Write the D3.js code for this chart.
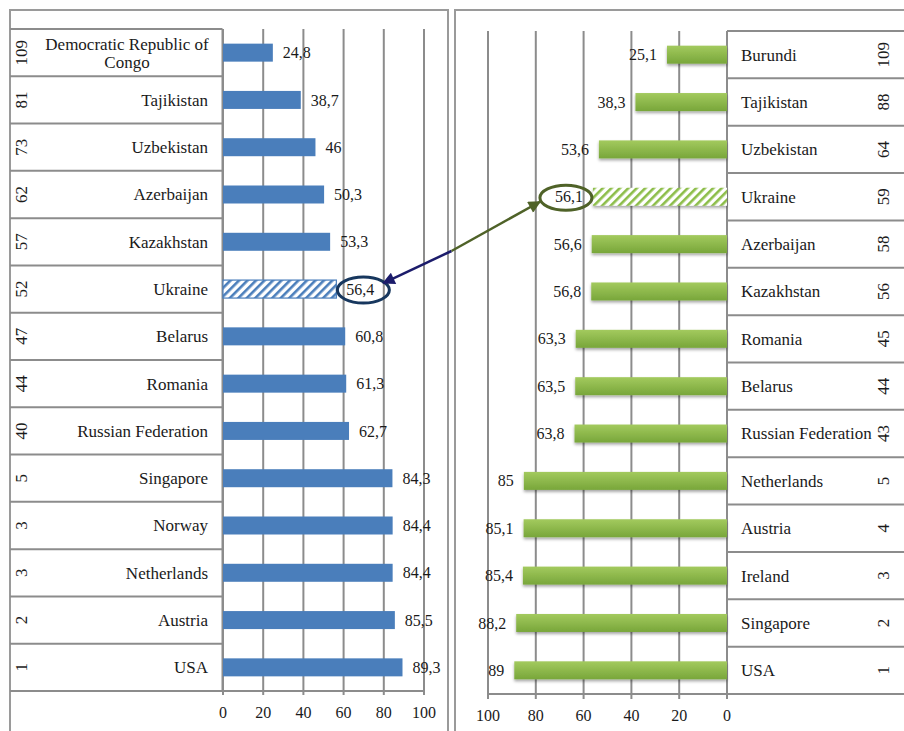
<!DOCTYPE html>
<html>
<head>
<meta charset="utf-8">
<script src="https://cdn.jsdelivr.net/npm/d3@7"></script>
<style>
  html, body { margin: 0; padding: 0; background: #fff; }
  svg { display: block; }
</style>
</head>
<body>
<svg id="chart" width="904" height="731" font-family="'Liberation Serif', 'Times New Roman', 'DejaVu Serif', serif"></svg>
<script>
// Left panel: index 1
const leftCountries = ["Democratic Republic of Congo", "Tajikistan", "Uzbekistan", "Azerbaijan", "Kazakhstan", "Ukraine", "Belarus", "Romania", "Russian Federation", "Singapore", "Norway", "Netherlands", "Austria", "USA"];
const leftRanks = [109, 81, 73, 62, 57, 52, 47, 44, 40, 5, 3, 3, 2, 1];
const leftValues = [24.8, 38.7, 46, 50.3, 53.3, 56.4, 60.8, 61.3, 62.7, 84.3, 84.4, 84.4, 85.5, 89.3];

// Right panel: index 2
const rightCountries = ["Burundi", "Tajikistan", "Uzbekistan", "Ukraine", "Azerbaijan", "Kazakhstan", "Romania", "Belarus", "Russian Federation", "Netherlands", "Austria", "Ireland", "Singapore", "USA"];
const rightRanks = [109, 88, 64, 59, 58, 56, 45, 44, 43, 5, 4, 3, 2, 1];
const rightValues = [25.1, 38.3, 53.6, 56.1, 56.6, 56.8, 63.3, 63.5, 63.8, 85, 85.1, 85.4, 88.2, 89];

const axisTicks = [0, 20, 40, 60, 80, 100];
const highlight = "Ukraine";

const fmt = v => String(v).replace(".", ",");

const svg = d3.select("#chart");
const defs = svg.append("defs");

// hatch patterns for the highlighted bars
function hatch(id, color) {
  const p = defs.append("pattern").attr("id", id)
    .attr("patternUnits", "userSpaceOnUse").attr("width", 6).attr("height", 6)
    .attr("patternTransform", "rotate(45)");
  p.append("rect").attr("width", 6).attr("height", 6).attr("fill", "#fff");
  p.append("rect").attr("width", 2.6).attr("height", 6).attr("fill", color);
}
hatch("hatchBlue", "#4a7ebb");
hatch("hatchGreen", "#8cbd48");

const grad = defs.append("linearGradient").attr("id", "greenGrad")
  .attr("x1", 0).attr("y1", 0).attr("x2", 0).attr("y2", 1);
grad.append("stop").attr("offset", "0%").attr("stop-color", "#a3ca5e");
grad.append("stop").attr("offset", "100%").attr("stop-color", "#78a63a");

const shadow = defs.append("filter").attr("id", "shadow")
  .attr("x", "-5%").attr("y", "-30%").attr("width", "110%").attr("height", "180%");
shadow.append("feDropShadow").attr("dx", 0).attr("dy", 2).attr("stdDeviation", 1.5)
  .attr("flood-color", "#000").attr("flood-opacity", 0.35);

function marker(id, color) {
  defs.append("marker").attr("id", id)
    .attr("viewBox", "0 0 10 10").attr("refX", 9).attr("refY", 5)
    .attr("markerWidth", 5.5).attr("markerHeight", 5).attr("orient", "auto")
    .attr("markerUnits", "strokeWidth")
    .append("path").attr("d", "M0,0 L10,5 L0,10 Z").attr("fill", color);
}
marker("arrowNavy", "#1c1c6b");
marker("arrowGreen", "#4f6228");

const gridColor = "#8c8c8c";
const frameColor = "#9a9a9a";
const textColor = "#1a1a1a";
const nameSize = 17;
const valSize = 16;
const tickSize = 16;
const rankSize = 17;

// ---------- frames ----------
svg.append("rect").attr("x", 10).attr("y", 10).attr("width", 438).attr("height", 740)
  .attr("fill", "none").attr("stroke", frameColor).attr("stroke-width", 2);
svg.append("rect").attr("x", 455).attr("y", 10).attr("width", 470).attr("height", 740)
  .attr("fill", "none").attr("stroke", frameColor).attr("stroke-width", 2);

// ---------- left panel ----------
const L = { top: 29, bottom: 691, tableX0: 10, tableX1: 222.5 };
const xL = d3.scaleLinear().domain([0, 100]).range([223, 424]);
const yL = d3.scaleBand().domain(leftCountries).range([L.top, L.bottom]).padding(0);

const gL = svg.append("g").attr("fill", textColor);
gL.selectAll("line.grid").data(axisTicks).join("line")
  .attr("x1", d => xL(d)).attr("x2", d => xL(d))
  .attr("y1", L.top).attr("y2", L.bottom + 4)
  .attr("stroke", gridColor).attr("stroke-width", 2);
gL.selectAll("line.row").data(leftCountries).join("line")
  .attr("x1", L.tableX0).attr("x2", L.tableX1)
  .attr("y1", d => yL(d)).attr("y2", d => yL(d))
  .attr("stroke", gridColor).attr("stroke-width", 2);
gL.append("line").attr("x1", L.tableX1).attr("x2", L.tableX1)
  .attr("y1", L.top).attr("y2", L.bottom).attr("stroke", gridColor).attr("stroke-width", 2);
gL.append("line").attr("x1", L.tableX0).attr("x2", xL(100))
  .attr("y1", L.bottom).attr("y2", L.bottom).attr("stroke", gridColor).attr("stroke-width", 2);
gL.selectAll("text.tick").data(axisTicks).join("text")
  .attr("x", d => xL(d)).attr("y", L.bottom + 27)
  .attr("text-anchor", "middle").attr("font-size", tickSize).text(d => d);
const barH = 18;
gL.selectAll("rect.bar").data(leftCountries).join("rect")
  .attr("x", xL(0))
  .attr("y", d => yL(d) + yL.bandwidth() / 2 - barH / 2)
  .attr("width", (d, i) => xL(leftValues[i]) - xL(0))
  .attr("height", barH)
  .attr("fill", d => d === highlight ? "url(#hatchBlue)" : "#4a7ebb")
  .attr("stroke", d => d === highlight ? "#4a7ebb" : "none")
  .attr("stroke-width", 1.2);
gL.selectAll("text.val").data(leftCountries).join("text")
  .attr("x", (d, i) => xL(leftValues[i]) + 10)
  .attr("y", d => yL(d) + yL.bandwidth() / 2)
  .attr("dy", "0.35em").attr("font-size", valSize)
  .text((d, i) => fmt(leftValues[i]));
gL.selectAll("text.name").data(leftCountries).join("text")
  .attr("font-size", nameSize)
  .each(function (d) {
    const t = d3.select(this);
    const cy = yL(d) + yL.bandwidth() / 2;
    if (d === "Democratic Republic of Congo") {
      t.attr("text-anchor", "middle");
      t.append("tspan").attr("x", 127).attr("y", cy - 9).attr("dy", "0.35em").text("Democratic Republic of");
      t.append("tspan").attr("x", 127).attr("y", cy + 9).attr("dy", "0.35em").text("Congo");
    } else {
      t.attr("text-anchor", "end").attr("x", 208).attr("y", cy).attr("dy", "0.35em").text(d);
    }
  });
gL.selectAll("text.rank").data(leftCountries).join("text")
  .attr("font-size", rankSize).attr("text-anchor", "middle")
  .attr("transform", d => `translate(21,${yL(d) + yL.bandwidth() / 2}) rotate(-90)`)
  .attr("dy", "0.35em")
  .text((d, i) => leftRanks[i]);

// ---------- right panel ----------
const R = { top: 31, bottom: 694, tableX0: 727, tableX1: 910 };
const xR = d3.scaleLinear().domain([0, 100]).range([727, 488]);
const yR = d3.scaleBand().domain(rightCountries).range([R.top, R.bottom]).padding(0);

const gR = svg.append("g").attr("fill", textColor);
gR.selectAll("line.grid").data(axisTicks).join("line")
  .attr("x1", d => xR(d)).attr("x2", d => xR(d))
  .attr("y1", R.top).attr("y2", R.bottom + 5)
  .attr("stroke", gridColor).attr("stroke-width", 2);
gR.append("rect")
  .attr("x", R.tableX0).attr("y", R.top).attr("width", R.tableX1 - R.tableX0)
  .attr("height", R.bottom - R.top).attr("fill", "#fff");
gR.selectAll("line.row").data(rightCountries).join("line")
  .attr("x1", R.tableX0).attr("x2", R.tableX1)
  .attr("y1", d => yR(d)).attr("y2", d => yR(d))
  .attr("stroke", gridColor).attr("stroke-width", 2);
gR.append("line").attr("x1", R.tableX0).attr("x2", R.tableX0)
  .attr("y1", R.top).attr("y2", R.bottom + 5).attr("stroke", gridColor).attr("stroke-width", 2);
gR.append("line").attr("x1", xR(100)).attr("x2", R.tableX1)
  .attr("y1", R.bottom).attr("y2", R.bottom).attr("stroke", gridColor).attr("stroke-width", 2);
gR.selectAll("text.tick").data(axisTicks).join("text")
  .attr("x", d => xR(d)).attr("y", R.bottom + 27)
  .attr("text-anchor", "middle").attr("font-size", tickSize).text(d => d);
gR.selectAll("rect.bar").data(rightCountries).join("rect")
  .attr("x", (d, i) => xR(rightValues[i]))
  .attr("y", d => yR(d) + yR.bandwidth() / 2 - barH / 2)
  .attr("width", (d, i) => xR(0) - xR(rightValues[i]))
  .attr("height", barH)
  .attr("fill", d => d === highlight ? "url(#hatchGreen)" : "url(#greenGrad)")
  .attr("filter", "url(#shadow)");
gR.selectAll("text.val").data(rightCountries).join("text")
  .attr("x", (d, i) => xR(rightValues[i]) - 10)
  .attr("y", d => yR(d) + yR.bandwidth() / 2)
  .attr("dy", "0.35em").attr("text-anchor", "end").attr("font-size", valSize)
  .text((d, i) => fmt(rightValues[i]));
gR.selectAll("text.name").data(rightCountries).join("text")
  .attr("x", 741).attr("y", d => yR(d) + yR.bandwidth() / 2)
  .attr("dy", "0.35em").attr("font-size", nameSize).text(d => d);
gR.selectAll("text.rank").data(rightCountries).join("text")
  .attr("font-size", rankSize).attr("text-anchor", "middle")
  .attr("transform", d => `translate(883,${yR(d) + yR.bandwidth() / 2}) rotate(-90)`)
  .attr("dy", "0.35em")
  .text((d, i) => rightRanks[i]);

// ---------- highlight ellipses and connecting arrows ----------
const li = leftCountries.indexOf(highlight);
const ri = rightCountries.indexOf(highlight);
const eL = { cx: xL(leftValues[li]) + 27, cy: yL(highlight) + yL.bandwidth() / 2 + 1, rx: 26, ry: 13 };
const eR = { cx: xR(rightValues[ri]) - 27, cy: yR(highlight) + yR.bandwidth() / 2 + 1, rx: 26, ry: 12.5 };

svg.append("ellipse").attr("cx", eL.cx).attr("cy", eL.cy).attr("rx", eL.rx).attr("ry", eL.ry)
  .attr("fill", "none").attr("stroke", "#17375e").attr("stroke-width", 3);
svg.append("ellipse").attr("cx", eR.cx).attr("cy", eR.cy).attr("rx", eR.rx).attr("ry", eR.ry)
  .attr("fill", "none").attr("stroke", "#4f6228").attr("stroke-width", 3);

const junction = [451.5, 251];
svg.append("line")
  .attr("x1", junction[0]).attr("y1", junction[1])
  .attr("x2", eL.cx + eL.rx - 6).attr("y2", eL.cy - eL.ry + 6)
  .attr("stroke", "#1c1c6b").attr("stroke-width", 2.5)
  .attr("marker-end", "url(#arrowNavy)");
svg.append("line")
  .attr("x1", junction[0]).attr("y1", junction[1])
  .attr("x2", eR.cx - eR.rx).attr("y2", eR.cy + 4)
  .attr("stroke", "#4f6228").attr("stroke-width", 2.5)
  .attr("marker-end", "url(#arrowGreen)");
</script>
</body>
</html>
